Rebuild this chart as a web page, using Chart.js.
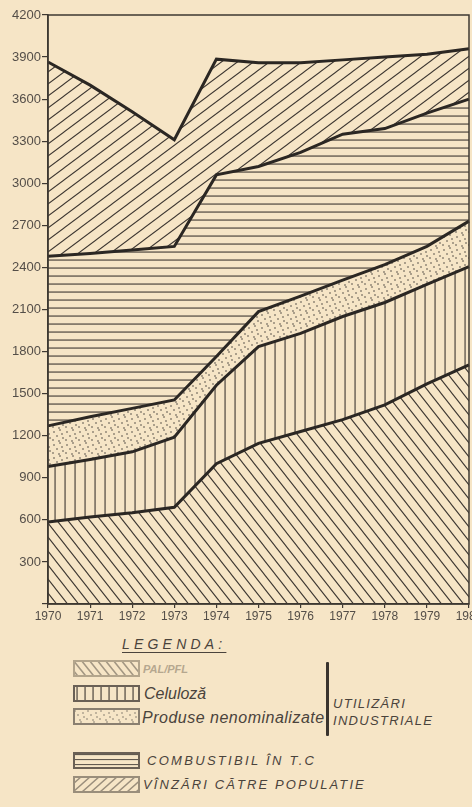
<!DOCTYPE html>
<html lang="ro">
<head>
<meta charset="UTF-8">
<title>Utilizarea masei lemnoase 1970-1980</title>
<script src="https://cdn.jsdelivr.net/npm/chart.js@4"></script>
<style>
body {
    margin: 0;
    background: #f6e5c6;
    width: 472px;
    height: 807px;
    overflow: hidden;
    position: relative;
    font-family: 'Liberation Sans', Arial, sans-serif;
}
#chart { position: absolute; left: 0; top: 0; }
.txt {
    position: absolute;
    color: #4a433c;
    font-style: italic;
    white-space: nowrap;
    line-height: 16px;
}
.sw { position: absolute; }
.caps { font-size: 13px; letter-spacing: 1.3px; }
.low { font-size: 16px; }
#bracket {
    position: absolute;
    left: 326px; top: 662px;
    width: 3px; height: 74px;
    background: #3a342e;
    border-radius: 1px;
}
</style>
</head>
<body>
<canvas id="chart" width="472" height="630"></canvas>

<div class="txt caps" style="left:122px; top:636px; font-size:14px; letter-spacing:4.2px; text-decoration:underline; text-underline-offset:3px;">LEGENDA:</div>

<canvas class="sw" id="sw-pal" width="67" height="17" style="left:73px; top:660px;"></canvas>
<div class="txt" style="left:143px; top:661px; font-size:11px; color:#b5a78f; font-weight:bold;">PAL/PFL</div>

<canvas class="sw" id="sw-cel" width="67" height="17" style="left:73px; top:685px;"></canvas>
<div class="txt low" style="left:144px; top:686px;">Celuloză</div>

<canvas class="sw" id="sw-prod" width="67" height="17" style="left:73px; top:708px;"></canvas>
<div class="txt low" style="left:142px; top:710px; letter-spacing:0.5px;">Produse nenominalizate</div>

<div id="bracket"></div>
<div class="txt caps" style="left:333px; top:696px;">UTILIZĂRI</div>
<div class="txt caps" style="left:333px; top:713px;">INDUSTRIALE</div>

<canvas class="sw" id="sw-comb" width="67" height="17" style="left:73px; top:752px;"></canvas>
<div class="txt caps" style="left:147px; top:753px; letter-spacing:2.3px;">COMBUSTIBIL ÎN T.C</div>

<canvas class="sw" id="sw-vanz" width="67" height="17" style="left:73px; top:776px;"></canvas>
<div class="txt caps" style="left:143px; top:777px; letter-spacing:2.1px;">VÎNZĂRI CĂTRE POPULATIE</div>

<script>
// ani
const years = ['1970', '1971', '1972', '1973', '1974', '1975', '1976', '1977', '1978', '1979', '1980'];

// grosimea fiecarui strat (mii mc)
const palPfl      = [585, 620, 650, 690, 1000, 1145, 1230, 1315, 1420, 1570, 1705];
const celuloza    = [395, 410, 435, 500, 560, 690, 700, 735, 730, 710, 700];
const produse     = [290, 305, 310, 265, 205, 250, 265, 260, 270, 270, 325];
const combustibil = [1210, 1165, 1130, 1095, 1295, 1035, 1025, 1040, 970, 950, 870];
const vanzari     = [1385, 1200, 985, 760, 825, 740, 640, 530, 510, 420, 360];

const INK = '#3e3832';
const LINE = '#2b2723';
const LABEL = '#544e48';

// --- hasuri ---
function makeTile(w, h, draw, lw) {
    const c = document.createElement('canvas');
    c.width = w; c.height = h;
    const g = c.getContext('2d');
    g.strokeStyle = INK;
    g.fillStyle = INK;
    g.lineWidth = lw || 1.1;
    draw(g, w, h);
    return c;
}

function backSlash(g, w, h) {
    g.beginPath();
    for (const dx of [-w, 0, w]) {
        g.moveTo(dx - w, -h);
        g.lineTo(dx + 2 * w, 2 * h);
    }
    g.stroke();
}

function slash(g, w, h) {
    g.beginPath();
    for (const dx of [-w, 0, w]) {
        g.moveTo(dx - w, 2 * h);
        g.lineTo(dx + 2 * w, -h);
    }
    g.stroke();
}

function vertical(g, w, h) {
    g.fillRect(w / 2 - 0.5, 0, 1.1, h);
}

function horizontal(g, w, h) {
    g.fillRect(0, h / 2 - 0.5, w, 1.1);
}

function dots(g, w, h) {
    const pts = [[2, 3], [8, 1], [5, 7], [11, 9], [1, 11], [10, 5], [7, 12]];
    pts.forEach(p => {
        g.beginPath();
        g.arc(p[0], p[1], 0.75, 0, Math.PI * 2);
        g.fill();
    });
}

const ctx = document.getElementById('chart').getContext('2d');
const patPal  = ctx.createPattern(makeTile(11, 14, backSlash), 'repeat');
const patCel  = ctx.createPattern(makeTile(10, 10, vertical), 'repeat');
const patProd = ctx.createPattern(makeTile(13, 13, dots), 'repeat');
const patComb = ctx.createPattern(makeTile(8, 8, horizontal), 'repeat');
const patVanz = ctx.createPattern(makeTile(16, 12, slash), 'repeat');

// chenarul zonei de desen
const framePlugin = {
    id: 'frame',
    afterDraw(chart) {
        const a = chart.chartArea;
        const c = chart.ctx;
        c.save();
        c.strokeStyle = INK;
        c.lineWidth = 1.5;
        c.strokeRect(a.left, a.top, a.right - a.left, a.bottom - a.top);
        c.restore();
    }
};

function layer(label, data, pattern, fill) {
    return {
        label: label,
        data: data,
        backgroundColor: pattern,
        borderColor: LINE,
        borderWidth: 3,
        pointRadius: 0,
        tension: 0,
        fill: fill
    };
}

new Chart(ctx, {
    type: 'line',
    data: {
        labels: years,
        datasets: [
            layer('PAL/PFL', palPfl, patPal, 'origin'),
            layer('Celuloză', celuloza, patCel, '-1'),
            layer('Produse nenominalizate', produse, patProd, '-1'),
            layer('COMBUSTIBIL ÎN T.C', combustibil, patComb, '-1'),
            layer('VÎNZĂRI CĂTRE POPULATIE', vanzari, patVanz, '-1')
        ]
    },
    options: {
        responsive: false,
        animation: false,
        devicePixelRatio: 1,
        layout: { padding: { top: 15, right: 3, left: 0, bottom: 0 } },
        plugins: {
            legend: { display: false },
            tooltip: { enabled: false }
        },
        scales: {
            x: {
                offset: false,
                grid: { drawOnChartArea: false, drawTicks: true, tickLength: 4, color: INK, lineWidth: 1.2 },
                border: { display: true, color: INK, width: 1.5 },
                ticks: {
                    color: LABEL,
                    font: { family: "'Liberation Sans Narrow', 'Liberation Sans', sans-serif", size: 12 },
                    maxRotation: 0,
                    autoSkip: false,
                    padding: 1
                },
                afterFit(scale) {
                    scale.height = 26;
                    scale.paddingLeft = 0;
                    scale.paddingRight = 0;
                }
            },
            y: {
                stacked: true,
                min: 0,
                max: 4200,
                grid: { drawOnChartArea: false, drawTicks: true, tickLength: 6, color: INK, lineWidth: 1.2 },
                border: { display: true, color: INK, width: 1.5 },
                ticks: {
                    stepSize: 300,
                    color: LABEL,
                    font: { family: "'Liberation Sans', sans-serif", size: 13 },
                    padding: 1,
                    callback: v => v === 0 ? '' : String(v)
                },
                afterFit(scale) {
                    scale.width = 48;
                    scale.paddingTop = 0;
                    scale.paddingBottom = 0;
                }
            }
        }
    },
    plugins: [framePlugin]
});

// mostrele din legenda
function swatch(id, tile, opts) {
    const c = document.getElementById(id);
    const g = c.getContext('2d');
    g.globalAlpha = opts.alpha || 1;
    g.fillStyle = g.createPattern(tile, 'repeat');
    g.fillRect(1, 1, c.width - 2, c.height - 2);
    g.globalAlpha = 1;
    g.strokeStyle = opts.border || '#4e4740';
    g.lineWidth = 2;
    g.strokeRect(1, 1, c.width - 2, c.height - 2);
}

swatch('sw-pal', makeTile(8, 10, backSlash, 1.6), { alpha: 0.45, border: '#b3a58c' });
swatch('sw-cel', makeTile(8, 10, vertical, 1), { border: '#6a6055' });
swatch('sw-prod', makeTile(13, 13, dots), { alpha: 0.7, border: '#8a7f70' });
swatch('sw-comb', makeTile(6, 5, horizontal), { alpha: 0.8, border: '#6a6055' });
swatch('sw-vanz', makeTile(9, 8, slash, 1.4), { alpha: 0.5, border: '#9a8e7b' });
</script>
</body>
</html>
